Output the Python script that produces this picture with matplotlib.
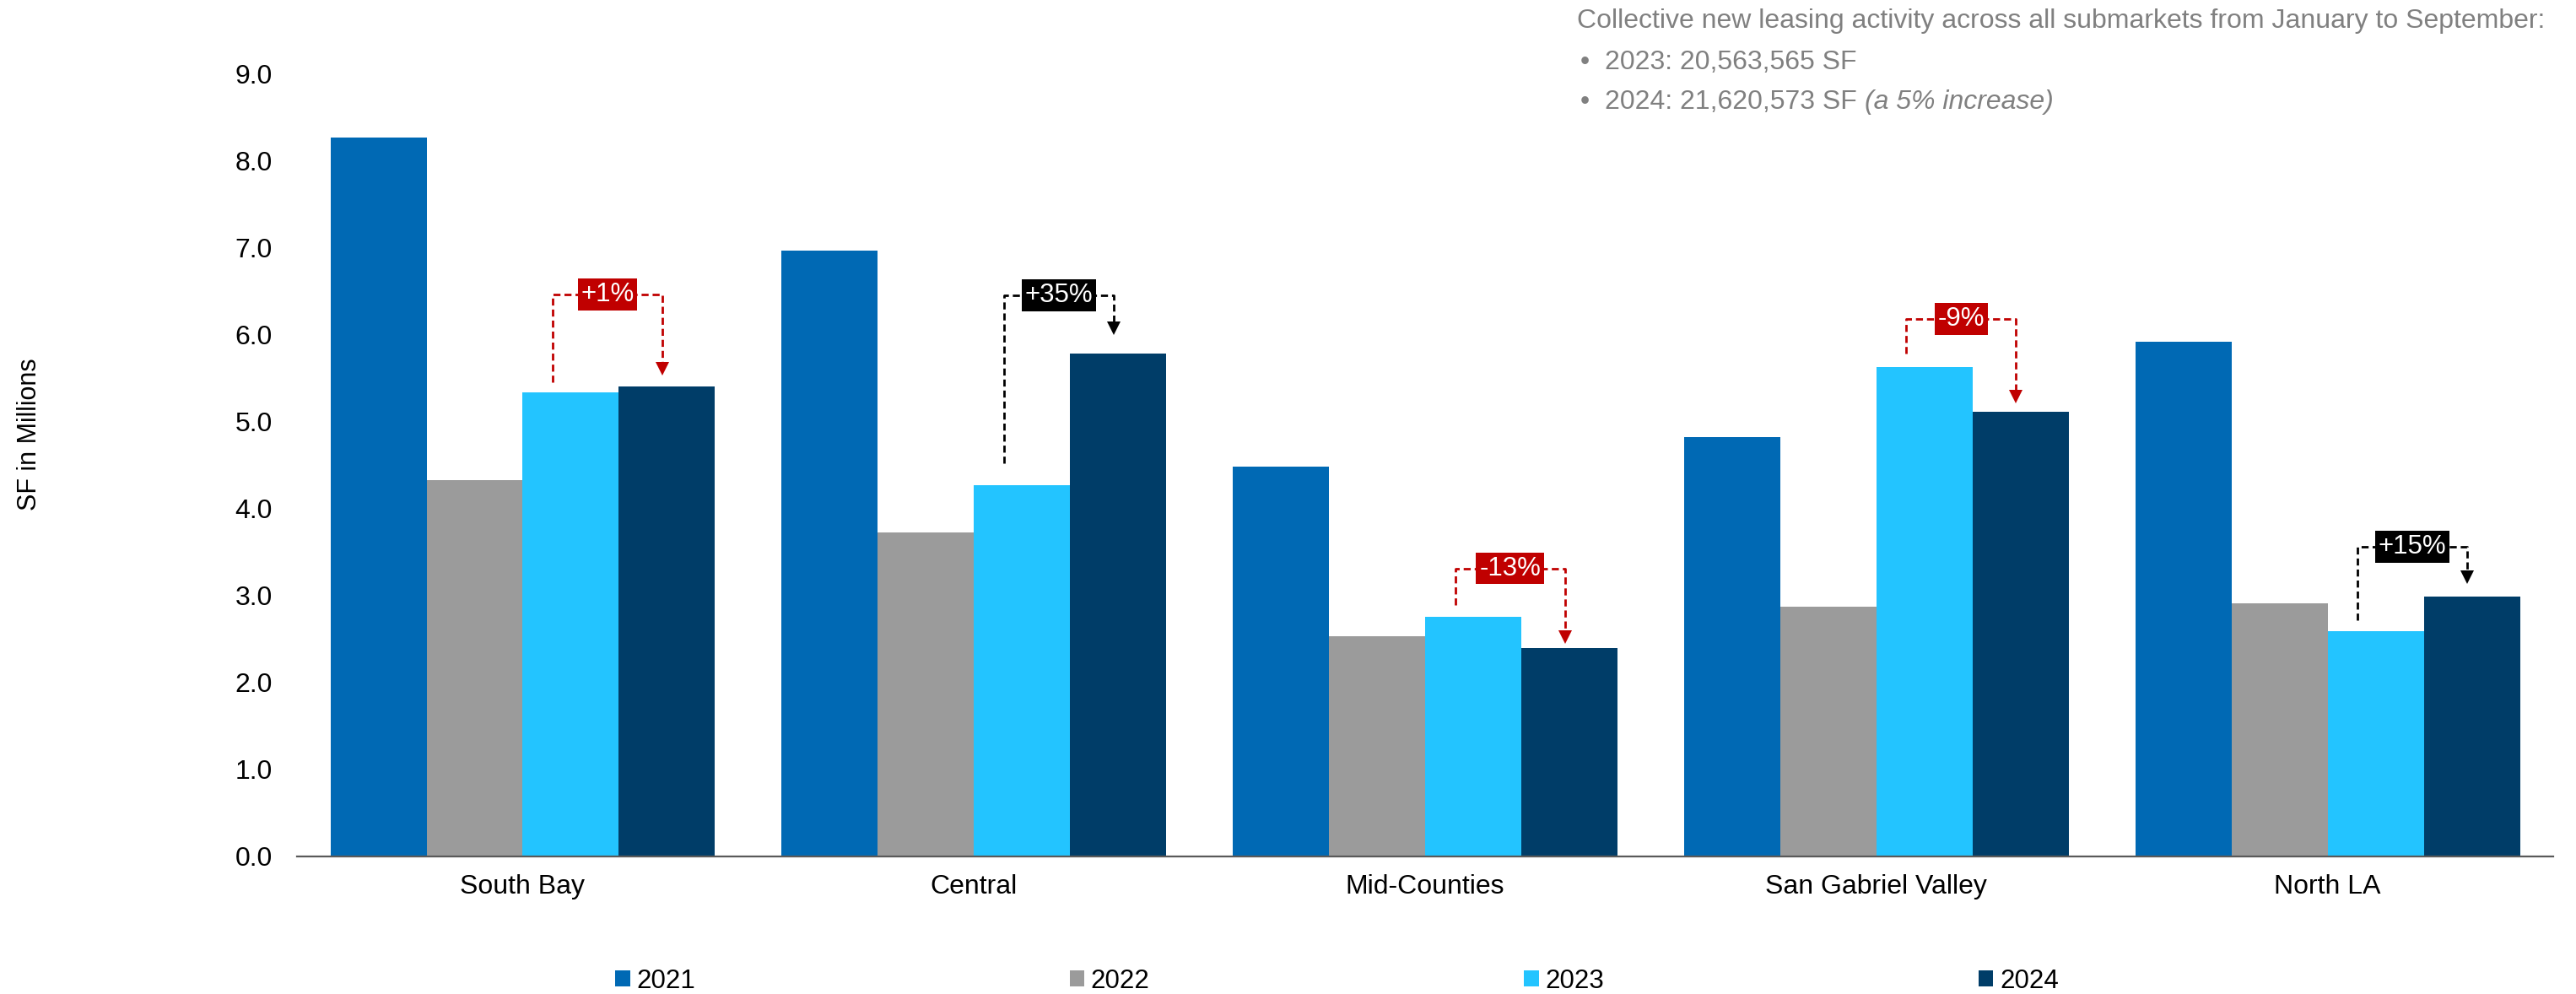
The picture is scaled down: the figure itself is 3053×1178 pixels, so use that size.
import matplotlib
matplotlib.use("Agg")
import matplotlib.pyplot as plt
from matplotlib.patches import Patch
import numpy as np

plt.rcParams["font.family"] = ["Liberation Sans", "DejaVu Sans"]

submarkets = ["South Bay", "Central", "Mid-Counties", "San Gabriel Valley", "North LA"]
years = ["2021", "2022", "2023", "2024"]
sf_2021 = [8.26, 6.96, 4.48, 4.82, 5.92]
sf_2022 = [4.33, 3.72, 2.53, 2.87, 2.91]
sf_2023 = [5.33, 4.27, 2.75, 5.63, 2.59]
sf_2024 = [5.40, 5.78, 2.40, 5.11, 2.99]

summary_title = "Collective new leasing activity across all submarkets from January to September:"
summary_2023 = "2023: 20,563,565 SF"
summary_2024 = "2024: 21,620,573 SF"
summary_note = "(a 5% increase)"

# bracket styling for the 2023 -> 2024 change callouts
change_colors = ["#C00000", "#000000", "#C00000", "#C00000", "#000000"]
bracket_top = [6.46, 6.45, 3.31, 6.18, 3.56]
start_gap = [0.12, 0.25, 0.14, 0.15, 0.13]
tip_gap = [0.13, 0.21, 0.04, 0.10, 0.14]

bar_colors = ["#0069B4", "#9B9B9B", "#23C4FF", "#003D68"]
series = [sf_2021, sf_2022, sf_2023, sf_2024]

fig = plt.figure(figsize=(30.53, 11.78), dpi=100)
ax = fig.add_axes([0.1153, 0.1384, 0.9912 - 0.1153, 0.9261 - 0.1384])

x = np.arange(len(submarkets))
width = 0.213
for i, (vals, color) in enumerate(zip(series, bar_colors)):
    ax.bar(x + (i - 1.5) * width, vals, width, color=color, zorder=2)

ax.set_xlim(-0.5, len(submarkets) - 0.5)
ax.set_ylim(0, 9)
ax.set_yticks(np.arange(0, 9.1, 1.0))
ax.set_yticklabels([f"{v:.1f}" for v in np.arange(0, 9.1, 1.0)])
ax.set_xticks(x)
ax.set_xticklabels(submarkets)
ax.tick_params(axis="y", length=0, pad=21, labelsize=23)
ax.tick_params(axis="x", length=0, pad=15, labelsize=23)
for side in ["left", "right", "top"]:
    ax.spines[side].set_visible(False)
ax.spines["bottom"].set_color("#595959")
ax.spines["bottom"].set_linewidth(1.6)

# change brackets between 2023 and 2024 bars
px = 1.0 / 103.1  # data units per pixel on the y axis
for i in range(len(submarkets)):
    v23, v24 = sf_2023[i], sf_2024[i]
    pct = (v24 / v23 - 1) * 100
    label = f"{pct:+.0f}%"
    color = change_colors[i]
    xl = x[i] + 0.5 * width - 0.04
    xr = x[i] + 1.5 * width - 0.01
    top = bracket_top[i]
    tip = v24 + tip_gap[i]
    head = 16 * px
    ax.plot([xl, xl, xr, xr], [v23 + start_gap[i], top, top, tip + head / 2],
            color=color, lw=2.0, linestyle=(0, (3.0, 1.7)), zorder=3,
            solid_capstyle="butt", dash_capstyle="butt")
    ax.plot([xr], [tip + head / 2], marker="v", markersize=12, color=color,
            markeredgewidth=0, zorder=4)
    ax.text((xl + xr) / 2, top, label, ha="center", va="center", fontsize=22.5,
            color="white", zorder=5,
            bbox=dict(boxstyle="square,pad=0.12", fc=color, ec="none"))

fig.text(35 / 3053, 1 - 515 / 1178, "SF in Millions", rotation=90,
         ha="center", va="center", fontsize=22)

gray = "#808080"
fs = 23
fig.text(1869 / 3053, 1 - 25 / 1178, summary_title, ha="left", va="center",
         fontsize=fs, color=gray)
fig.text(1873 / 3053, 1 - 74 / 1178, "\u2022", ha="left", va="center",
         fontsize=fs, color=gray)
fig.text(1873 / 3053, 1 - 121 / 1178, "\u2022", ha="left", va="center",
         fontsize=fs, color=gray)
fig.text(1902 / 3053, 1 - 74 / 1178, summary_2023, ha="left", va="center",
         fontsize=fs, color=gray)
t = fig.text(1902 / 3053, 1 - 121 / 1178, summary_2024 + " ", ha="left",
             va="center", fontsize=fs, color=gray)
fig.canvas.draw()
bb = t.get_window_extent()
fig.text(bb.x1 / fig.bbox.width, 1 - 121 / 1178, summary_note, ha="left",
         va="center", fontsize=fs, color=gray, style="italic")

handles = [Patch(facecolor=c, edgecolor="none", label=y) for c, y in zip(bar_colors, years)]
fig.legend(handles=handles, loc="center", bbox_to_anchor=(0.519, 0.013),
           ncol=4, frameon=False, fontsize=22.5, handlelength=0.55,
           handleheight=0.55, handletextpad=0.25, columnspacing=14.2)

fig.savefig("out.png", dpi=100)
